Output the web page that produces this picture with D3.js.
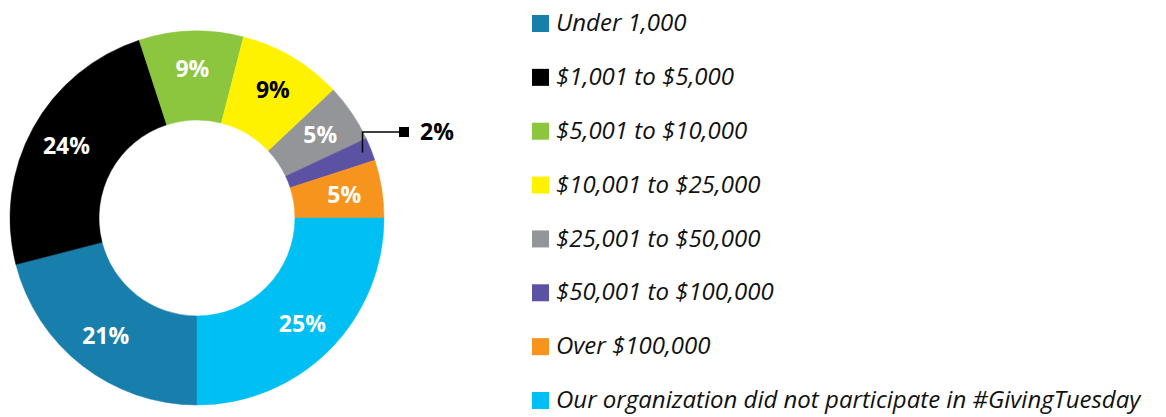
<!DOCTYPE html>
<html>
<head>
<meta charset="utf-8">
<script src="https://cdn.jsdelivr.net/npm/d3@7"></script>
<style>
  body { margin: 0; background: #fff; }
  .pct { font-family: "Open Sans", sans-serif; font-weight: 700; font-size: 23px; }
  .legend-text { font-family: "Open Sans", sans-serif; font-style: italic; font-size: 24px; fill: #111; }
</style>
</head>
<body>
<div class="chart"></div>
<script>
// data
var categories = [
  "Under 1,000",
  "$1,001 to $5,000",
  "$5,001 to $10,000",
  "$10,001 to $25,000",
  "$25,001 to $50,000",
  "$50,001 to $100,000",
  "Over $100,000",
  "Our organization did not participate in #GivingTuesday"
];
var values = [21, 24, 9, 9, 5, 2, 5, 25];
var colors = ["#187fac", "#000000", "#8cc63f", "#fff200", "#939598", "#5c52a3", "#f7941d", "#00c0f3"];
var labelColors = ["#fff", "#fff", "#fff", "#000", "#fff", null, "#fff", "#fff"];

var svgWidth = 1166;
var svgHeight = 417;

var cx = 197, cy = 218;
var outerR = 187, innerR = 98;

var svg = d3.select(".chart")
  .append("svg")
  .attr("width", svgWidth)
  .attr("height", svgHeight);

var pie = d3.pie()
  .sort(null)
  .value(function(d) { return d; })
  .startAngle(Math.PI)
  .endAngle(3 * Math.PI);

var arc = d3.arc().innerRadius(innerR).outerRadius(outerR);
var labelArc = d3.arc().innerRadius(149).outerRadius(149);

var arcs = pie(values);

var donut = svg.append("g")
  .attr("transform", "translate(" + cx + "," + cy + ")");

donut.selectAll("path")
  .data(arcs)
  .enter()
  .append("path")
  .attr("d", arc)
  .attr("fill", function(d, i) { return colors[i]; })
  .attr("stroke", function(d, i) { return colors[i]; })
  .attr("stroke-width", 0.5);

donut.selectAll("text.pct")
  .data(arcs.filter(function(d, i) { return labelColors[i]; }))
  .enter()
  .append("text")
  .attr("class", "pct")
  .attr("transform", function(d) { return "translate(" + labelArc.centroid(d) + ")"; })
  .attr("text-anchor", "middle")
  .attr("dy", "0.36em")
  .attr("fill", function(d) { return labelColors[d.index]; })
  .text(function(d) { return d.value + "%"; });

// callout for the small slice
var small = arcs[5];
var mid = (small.startAngle + small.endAngle) / 2;
var p0 = [Math.sin(mid) * 178, -Math.cos(mid) * 178];
var elbowY = -86;
var endX = 206;
donut.append("path")
  .attr("d", "M" + p0[0] + "," + p0[1] + "V" + elbowY + "H" + endX)
  .attr("fill", "none")
  .attr("stroke", "#000")
  .attr("stroke-width", 1.5);
donut.append("rect")
  .attr("x", endX - 4)
  .attr("y", elbowY - 5)
  .attr("width", 10)
  .attr("height", 10)
  .attr("fill", "#000");
donut.append("text")
  .attr("class", "pct")
  .attr("x", 223)
  .attr("y", elbowY)
  .attr("dy", "0.36em")
  .attr("fill", "#000")
  .text(small.value + "%");

// legend
var legendY = d3.scalePoint()
  .domain(categories)
  .range([23, 400]);

var legend = svg.append("g");

var rows = legend.selectAll("g")
  .data(categories)
  .enter()
  .append("g")
  .attr("transform", function(d) { return "translate(532," + legendY(d) + ")"; });

rows.append("rect")
  .attr("x", 0)
  .attr("y", -8)
  .attr("width", 17)
  .attr("height", 17)
  .attr("fill", function(d, i) { return colors[i]; });

rows.append("text")
  .attr("class", "legend-text")
  .attr("x", 24)
  .attr("y", 0)
  .attr("dy", "0.34em")
  .text(function(d) { return d; });
</script>
</body>
</html>
